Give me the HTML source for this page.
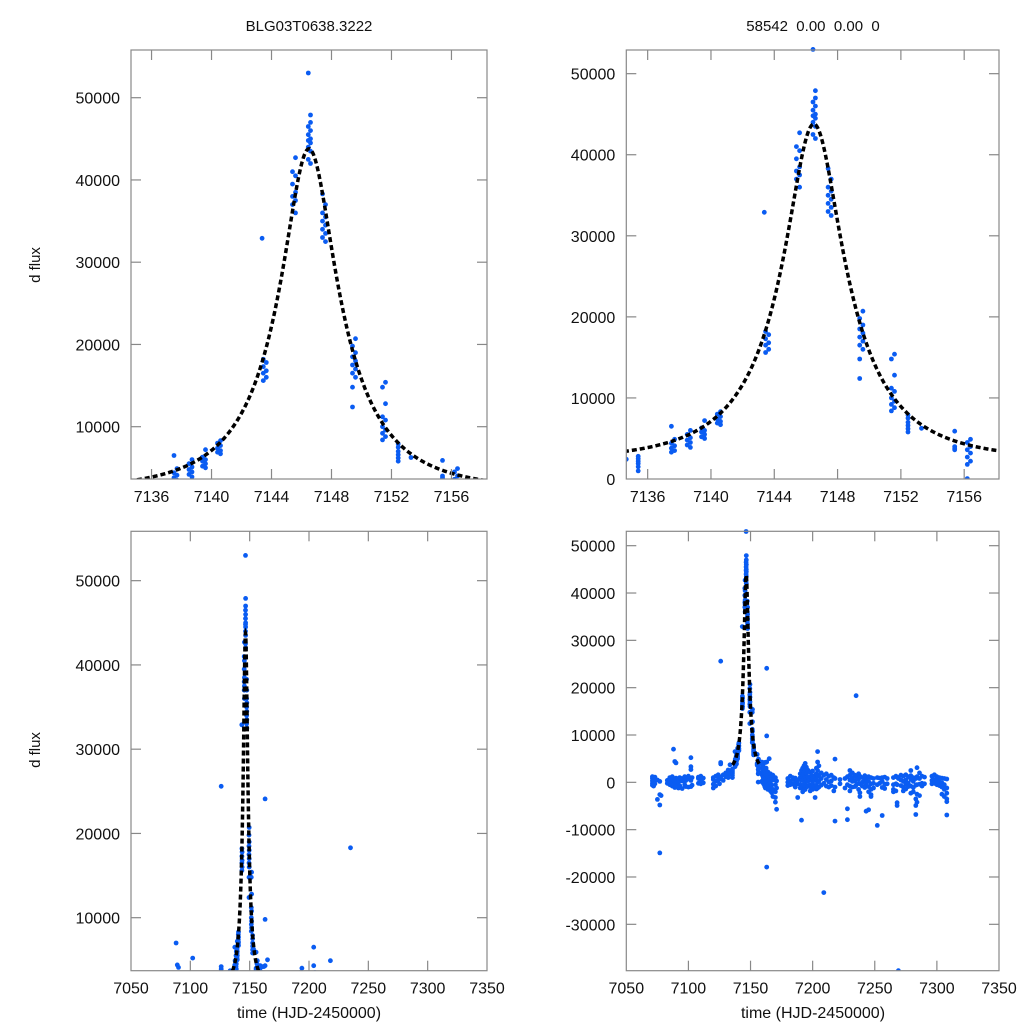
<!DOCTYPE html>
<html><head><meta charset="utf-8">
<style>
html,body{margin:0;padding:0;background:#fff;overflow:hidden;width:1024px;height:1024px;}
svg{display:block;font-family:"Liberation Sans",Arial,sans-serif;}
</style></head>
<body>
<svg id="chart" width="1024" height="1024" viewBox="0 0 1024 1024" xmlns="http://www.w3.org/2000/svg">
<rect width="1024" height="1024" fill="#fff"/>
<text x="309" y="31" font-size="15" text-anchor="middle" fill="#111">BLG03T0638.3222</text>
<text x="813" y="31" font-size="15" text-anchor="middle" fill="#111" xml:space="preserve">58542  0.00  0.00  0</text>
<text transform="translate(40,265) rotate(-90)" font-size="15" text-anchor="middle" fill="#111">d flux</text>
<text transform="translate(40,750) rotate(-90)" font-size="15" text-anchor="middle" fill="#111">d flux</text>
<text x="309" y="1018" font-size="16" text-anchor="middle" fill="#111">time (HJD-2450000)</text>
<text x="813" y="1018" font-size="16" text-anchor="middle" fill="#111">time (HJD-2450000)</text>
</svg>
<script>
// Peak-phase observations: [time, [flux values]]
const peakNights = [
 [7134.65,[2430]],
 [7135.4,[2800,2500,2200,1900,1500,1000]],
 [7137.5,[6500,4400,3800,3300]],
 [7137.7,[4900,4100,3500]],
 [7138.5,[5500,4800,4200]],
 [7138.7,[6000,5100,4500,3900]],
 [7139.4,[6300,5800,5200]],
 [7139.6,[7200,6000,5500,5000]],
 [7140.4,[8000,7400,6900]],
 [7140.6,[8300,7700,7100,6700]],
 [7143.37,[32900]],
 [7143.45,[18200,17300,16500,15600]],
 [7143.65,[17800,16800,16000]],
 [7145.4,[41000,39500,38000,37000]],
 [7145.6,[42700,40500,38500,37500,36000]],
 [7146.45,[53000,46500,45500,44800,44000,42500]],
 [7146.6,[47900,47000,46000,45000,44500,43500,42000]],
 [7147.4,[38300,36000,35000,34000,33000]],
 [7147.6,[37000,35500,34500,33500,32500]],
 [7149.4,[19800,18500,17500,16500,14800,12400]],
 [7149.6,[20700,19000,18000,17000,16000]],
 [7151.4,[14800,11200,10000,9200,8400]],
 [7151.6,[15400,12800,10800,9600,8800]],
 [7152.45,[7900,7500,7000,6600,6200,5800]],
 [7153.3,[6250]],
 [7155.4,[5900,4000,3800,3600]],
 [7156.2,[4500,3600,2700,1800,50]],
 [7156.4,[4900,4000,3200,2200]]
];
// Baseline observations: [time, [flux values]]
const baseNights = [
 [7071,[800,300,-200,-600,1200]],[7072,[1000,0,-800,400]],[7073,[600,-300,1100]],
 [7075,[-3600,500]],[7077,[-2600,-4800,-14900,200]],[7078,[-2800]],[7083,[400,-200]],
 [7085,[700,-500,100,1000]],[7087,[300,-800,1200,-300]],[7088,[7000,500,-600]],
 [7089,[4400,200,-1100]],[7090,[4100,900,-400]],[7092,[600,-1200,100]],[7093,[1000,-700]],
 [7095,[300,-1300,800]],[7097,[1200,-500,200]],[7098,[-900,400]],[7100,[700,-1000,1300]],
 [7102,[5200,2700,3300,400,-900]],[7103,[1000,-600]],[7108,[800,-200,1100]],
 [7110,[500,-300,1300,200]],[7112,[900,-100]],[7120,[-400,-1200,600,1000]],
 [7122,[1300,200,-800]],[7124,[1600,500]],[7125,[1200,-300,700]],[7126,[25600,3900,4200,900]],
 [7128,[1600,400]],[7130,[1200,2000]],[7132,[1800,2600,1000]],[7133.5,[3700,2400,1800]],
 [7159,[4000,4300,2000,200]],[7159.5,[0,3000,1500]],[7160,[3500,2500,1200,500]],
 [7160.5,[2800,1800,700,-300]],[7161,[4200,2000,1000,-500]],[7161.5,[2500,1500,300,-900]],
 [7162,[4200,1800,600,-1200]],[7162.5,[3000,1200,200]],[7163,[24100,9800,-17900,4300,1500,-400]],
 [7164,[2200,1000,-600,-1500]],[7165,[5000,1600,400,-1000]],[7166,[1800,-200,-1800]],
 [7167,[1200,-600,-2200]],[7168,[1500,500,-1500,-3000]],[7170,[1000,-500,-2000,-3200,-4200]],
 [7171,[-5700,300,-1200]],[7180,[800,0,-700]],[7182,[1300,200,-500]],[7184,[600,-400,1000]],
 [7186,[900,-100,-1000]],[7188,[-3200,500,-300]],[7190,[1800,1000,-500,-1200]],
 [7191,[-8000,2500,400]],[7192,[3000,1500,500,-800,-2000]],[7193,[3500,2200,800,-400,-1600]],
 [7194,[4000,2500,1200,0,-1000,-1500]],[7195,[3200,1800,600,-700]],[7196,[2600,1200,200,-900]],
 [7198,[2200,1000,-500,-1800]],[7199,[1500,500,-1200]],[7200,[2400,800,-300,-1500]],
 [7202,[-3200,1500,400,-800]],[7203,[3000,1800,700,-600,-1400]],[7204,[6500,4300,2500,1200,0,-1200]],
 [7205,[3500,1500,200,-1000]],[7207,[2000,800,-600]],[7209,[-23300,1500,-200]],
 [7211,[1800,600,-800]],[7213,[1300,100,-1000]],[7215,[1500,300,-700]],[7217,[1000,-1800]],
 [7218,[4900,-8200,800,-1000]],[7222,[600,-300]],[7226,[800,-1200]],[7228,[1200,-500,-5600,-7900]],
 [7230,[2500,1500,500,-800,-1800]],[7232,[2000,1000,200,-1000]],[7234,[1500,300,-900]],
 [7235,[18300,1200,-600]],[7237,[1800,700,-200,-1500]],[7238,[1300,-300,-2200,-3000]],
 [7240,[1000,0,-800]],[7242,[1400,300,-1100]],[7243,[-6100,800,-500]],
 [7245,[-5800,1200,200,-900,-2000]],[7247,[1000,-300,-1500,-3000,-2600]],[7249,[800,-200,-1200]],
 [7252,[-9100,1000,-500]],[7254,[900,-200]],[7256,[-7000,1000,200,-1100]],[7258,[1100,-400,-1300]],
 [7260,[800,-300]],[7265,[1000,-500,-1500,-2000]],[7267,[1300,-300,-1800]],
 [7268,[-4300,-4900,1100,-500]],[7269,[-39800,800]],[7271,[1500,500,-700]],
 [7273,[1300,200,-1000,-1800]],[7275,[1600,500,-400,-1400]],[7277,[1200,-200,-900]],
 [7279,[2500,1400,600,-800,-2300]],[7281,[1000,200,-1100,-2000]],[7283,[-6800,-4900,-3500,800,-600]],
 [7284,[-4200,-2500,3100,1200,-500]],[7286,[2000,800,-400,-2800]],[7288,[1300,-200,-800]],
 [7290,[1100,-300]],[7296,[1300,400,-300]],[7298,[1600,600,-200]],[7300,[1200,400,-500]],
 [7302,[1000,100,-700]],[7304,[900,-100,-1000,-2500]],[7306,[800,-500,-1500,-3000]],
 [7308,[700,-1200,-2300,-3500,-4100,-6900]]
];
// Fitted point-lens model parameters
const fitT0 = [7146.5];
const fitTE = [6.2];
const fitU0 = [0.3];
const fitFs = [16970];
const fitFb = [2300];
// Tick labels
const xTicksZoom = [7136,7140,7144,7148,7152,7156];
const xTicksFull = [7050,7100,7150,7200,7250,7300,7350];
const yTicksTL = [10000,20000,30000,40000,50000];
const yTicksTR = [0,10000,20000,30000,40000,50000];
const yTicksBL = [10000,20000,30000,40000,50000];
const yTicksBR = [-30000,-20000,-10000,0,10000,20000,30000,40000,50000];

const NS='http://www.w3.org/2000/svg';
const svg=document.getElementById('chart');
function mk(tag,attrs,parent){const e=document.createElementNS(NS,tag);for(const k in attrs)e.setAttribute(k,attrs[k]);(parent||svg).appendChild(e);return e;}
function model(t){
  const x=(t-fitT0[0])/fitTE[0];
  const u=Math.sqrt(fitU0[0]*fitU0[0]+x*x);
  const A=(u*u+2)/(u*Math.sqrt(u*u+4));
  return fitFs[0]*(A-1)+fitFb[0];
}
const allPts=[];
peakNights.concat(baseNights).forEach(n=>n[1].forEach(v=>allPts.push([n[0],v])));

function panel(id,box,xr,yr,xt,yt,curveRange){
  const [L,T,R,B]=box;
  const sx=t=>L+(t-xr[0])/(xr[1]-xr[0])*(R-L);
  const sy=v=>B-(v-yr[0])/(yr[1]-yr[0])*(B-T);
  const g=mk('g',{});
  
  
  const cp=mk('clipPath',{id:id+'-clip'},g);
  mk('rect',{x:L,y:T-3,width:R-L,height:B-T+3},cp);
  const pg=mk('g',{'clip-path':'url(#'+id+'-clip)'},g);
  
  
  allPts.forEach(p=>{
    const c=mk('circle',{cx:sx(p[0]).toFixed(1),cy:sy(p[1]).toFixed(1),r:2.4,fill:'#0a5cf2'},pg);
    
    
  });
  let d='';const n=400;
  for(let i=0;i<=n;i++){const t=curveRange[0]+(curveRange[1]-curveRange[0])*i/n;d+=(i?'L':'M')+sx(t).toFixed(2)+','+sy(model(t)).toFixed(2);}
  const path=mk('path',{d:d,fill:'none',stroke:'#000','stroke-width':3.5,'stroke-dasharray':'5 3'},pg);
  
  
  const frame=mk('rect',{x:L,y:T,width:R-L,height:B-T,fill:'none',stroke:'#888','stroke-width':1.2},g);
  
  
  xt.forEach(v=>{
    const x=sx(v);
    if(x>L+1&&x<R-1){
      mk('line',{x1:x,y1:B,x2:x,y2:B-10,stroke:'#888','stroke-width':1.2},g);
      mk('line',{x1:x,y1:T,x2:x,y2:T+10,stroke:'#888','stroke-width':1.2},g);
    }
    const tx=mk('text',{x:x,y:B+23,'font-size':16,'text-anchor':'middle',fill:'#111'},g);
    tx.textContent=v;
    
    
  });
  yt.forEach(v=>{
    const y=sy(v);
    if(y>T+1&&y<B-1){
      mk('line',{x1:L,y1:y,x2:L+10,y2:y,stroke:'#888','stroke-width':1.2},g);
      mk('line',{x1:R,y1:y,x2:R-10,y2:y,stroke:'#888','stroke-width':1.2},g);
    }
    const ty=mk('text',{x:L-11,y:y+6,'font-size':16,'text-anchor':'end',fill:'#111'},g);
    ty.textContent=v;
    
    
  });
}
panel('top-left',[131,50,487,479],[7134.63,7158.37],[3641,55800],xTicksZoom,yTicksTL,[7134.5,7158.5]);
panel('top-right',[626.3,50,999,479],[7134.65,7158.2],[0,52920],xTicksZoom,yTicksTR,[7134.5,7158.5]);
panel('bottom-left',[131,531.3,487,970.7],[7050,7350],[3709,55860],xTicksFull,yTicksBL,[7135.5,7157.5]);
panel('bottom-right',[626.3,531.3,999,970.7],[7050,7350],[-39800,53040],xTicksFull,yTicksBR,[7135.5,7157.5]);
</script>
</body></html>
